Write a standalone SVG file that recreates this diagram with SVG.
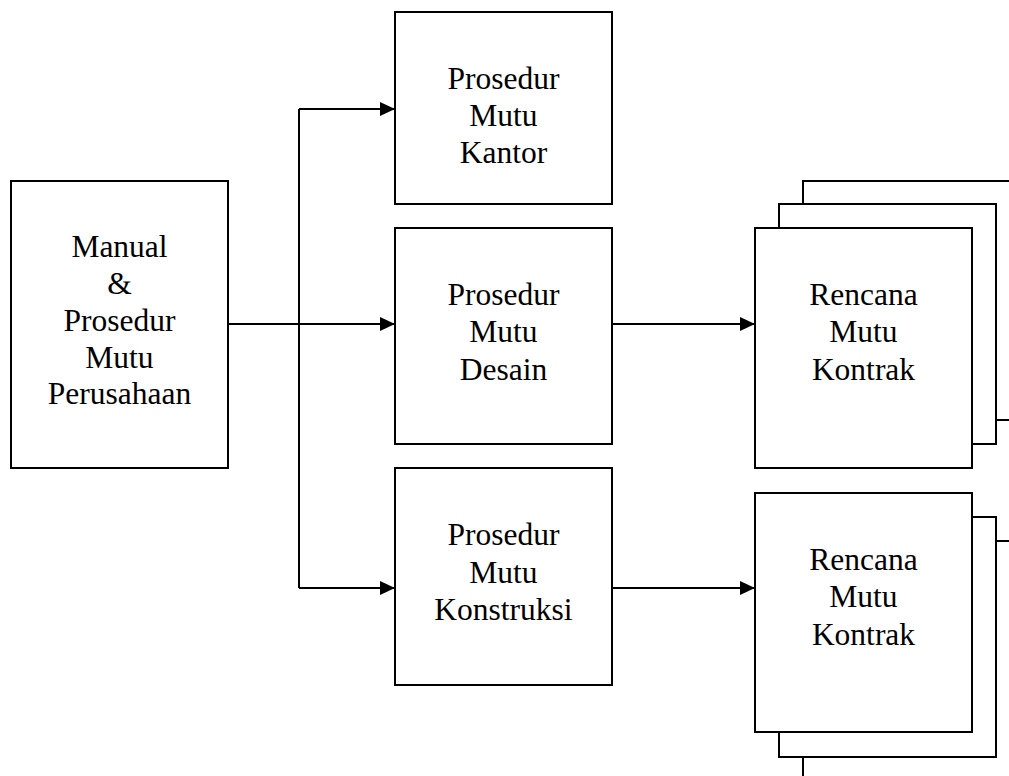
<svg xmlns="http://www.w3.org/2000/svg" width="1009" height="776" viewBox="0 0 1009 776">
<defs>
<style>
.box{fill:#fff;stroke:#000;stroke-width:2}
.ln{fill:none;stroke:#000;stroke-width:2}
.t{font-family:"Liberation Serif","Times New Roman",serif;font-size:31.5px;fill:#000;text-anchor:middle}
</style>
<marker id="arr" markerUnits="userSpaceOnUse" markerWidth="16" markerHeight="14" refX="15" refY="7" orient="auto">
<polygon points="0,0 15,7 0,14" fill="#000"/>
</marker>
</defs>
<rect width="1009" height="776" fill="#fff"/>
<g id="connectors">
<line class="ln" x1="299" y1="109" x2="299" y2="588"/>
<line class="ln" x1="228" y1="324" x2="395" y2="324" marker-end="url(#arr)"/>
<line class="ln" x1="299" y1="109" x2="395" y2="109" marker-end="url(#arr)"/>
<line class="ln" x1="299" y1="588" x2="395" y2="588" marker-end="url(#arr)"/>
<line class="ln" x1="612" y1="324" x2="755" y2="324" marker-end="url(#arr)"/>
<line class="ln" x1="612" y1="588" x2="755" y2="588" marker-end="url(#arr)"/>
</g>
<g id="manual">
<rect class="box" x="11" y="181" width="217" height="287"/>
<text class="t" x="119.5" y="257">Manual</text>
<text class="t" x="119.5" y="294">&amp;</text>
<text class="t" x="119.5" y="331">Prosedur</text>
<text class="t" x="119.5" y="367.5">Mutu</text>
<text class="t" x="119.5" y="404">Perusahaan</text>
</g>
<g id="kantor">
<rect class="box" x="395" y="12" width="217" height="192"/>
<text class="t" x="503.5" y="89">Prosedur</text>
<text class="t" x="503.5" y="126">Mutu</text>
<text class="t" x="503.5" y="163">Kantor</text>
</g>
<g id="desain">
<rect class="box" x="395" y="228" width="217" height="216"/>
<text class="t" x="503.5" y="305">Prosedur</text>
<text class="t" x="503.5" y="342">Mutu</text>
<text class="t" x="503.5" y="380">Desain</text>
</g>
<g id="konstruksi">
<rect class="box" x="395" y="468" width="217" height="217"/>
<text class="t" x="503.5" y="545">Prosedur</text>
<text class="t" x="503.5" y="582.5">Mutu</text>
<text class="t" x="503.5" y="620">Konstruksi</text>
</g>
<g id="rencana1">
<rect class="box" x="803" y="181" width="216" height="239"/>
<rect class="box" x="779" y="204" width="217" height="240"/>
<rect class="box" x="755" y="228" width="217" height="240"/>
<text class="t" x="863.5" y="305">Rencana</text>
<text class="t" x="863.5" y="342">Mutu</text>
<text class="t" x="863.5" y="380">Kontrak</text>
</g>
<g id="rencana2">
<rect class="box" x="803" y="541" width="216" height="240"/>
<rect class="box" x="779" y="517" width="217" height="240"/>
<rect class="box" x="755" y="493" width="217" height="239"/>
<text class="t" x="863.5" y="569.5">Rencana</text>
<text class="t" x="863.5" y="607">Mutu</text>
<text class="t" x="863.5" y="644.5">Kontrak</text>
</g>
</svg>
